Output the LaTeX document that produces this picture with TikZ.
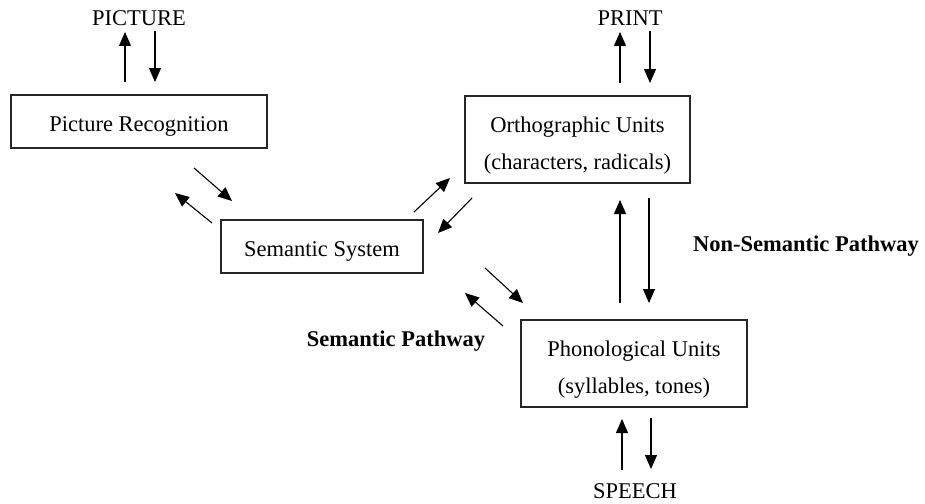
\documentclass[tikz,border=0pt]{standalone}
\usepackage{fontspec}
\setmainfont{Liberation Serif}
\usetikzlibrary{arrows.meta}
\begin{document}
\begin{tikzpicture}[x=1pt,y=-1pt,
  box/.style={draw=black!85,line width=1.3pt,inner sep=0pt,align=center,
    font=\fontsize{22.5}{37}\selectfont},
  lbl/.style={inner sep=0pt,font=\fontsize{22.5}{27}\selectfont},
  blbl/.style={inner sep=0pt,font=\fontsize{22.5}{27}\selectfont\bfseries},
  arr/.style={line width=1.1pt,-{Triangle[length=14pt,width=12pt]}}]
\useasboundingbox (0,0) rectangle (925,503);
\node[box,minimum width=256pt,minimum height=53pt] (pr) at (139,121.5) {\rule{0pt}{24.5pt}Picture Recognition};
\node[box,minimum width=202pt,minimum height=53pt] (ss) at (322,246.5) {\rule{0pt}{24.5pt}Semantic System};
\node[box,minimum width=225pt,minimum height=87pt] (ou) at (577.5,139.5) {\rule{0pt}{27pt}Orthographic Units\\(characters, radicals)};
\node[box,minimum width=226pt,minimum height=87pt] (pu) at (634,363.5) {\rule{0pt}{27pt}Phonological Units\\(syllables, tones)};
\node[lbl] (pic) at (139,18) {PICTURE};
\node[lbl] (print) at (630,18) {PRINT};
\node[lbl] (speech) at (635,491) {SPEECH};
\node[blbl] (nsp) at (806,246) {Non-Semantic Pathway};
\node[blbl] (sp) at (396,341) {Semantic Pathway};
% coordinates
\coordinate (a1) at (125,82); \coordinate (a2) at (125,32);
\coordinate (b1) at (155,31); \coordinate (b2) at (155,82);
\coordinate (c1) at (194,168); \coordinate (c2) at (232,201);
\coordinate (d1) at (212,223); \coordinate (d2) at (175,193);
\coordinate (e1) at (414,212); \coordinate (e2) at (450,178);
\coordinate (f1) at (472,198); \coordinate (f2) at (438,233);
\coordinate (g1) at (620,83); \coordinate (g2) at (620,32);
\coordinate (h1) at (650,31); \coordinate (h2) at (650,83);
\coordinate (i1) at (620,303); \coordinate (i2) at (620,200);
\coordinate (j1) at (649,198); \coordinate (j2) at (649,303);
\coordinate (k1) at (485,268); \coordinate (k2) at (523,303);
\coordinate (l1) at (503,326); \coordinate (l2) at (465,293);
\coordinate (m1) at (622,470); \coordinate (m2) at (622,419);
\coordinate (n1) at (651,418); \coordinate (n2) at (651,469);
\draw[arr] (a1) -- (a2);
\draw[arr] (b1) -- (b2);
\draw[arr] (c1) -- (c2);
\draw[arr] (d1) -- (d2);
\draw[arr] (e1) -- (e2);
\draw[arr] (f1) -- (f2);
\draw[arr] (g1) -- (g2);
\draw[arr] (h1) -- (h2);
\draw[arr] (i1) -- (i2);
\draw[arr] (j1) -- (j2);
\draw[arr] (k1) -- (k2);
\draw[arr] (l1) -- (l2);
\draw[arr] (m1) -- (m2);
\draw[arr] (n1) -- (n2);
\end{tikzpicture}
\end{document}
